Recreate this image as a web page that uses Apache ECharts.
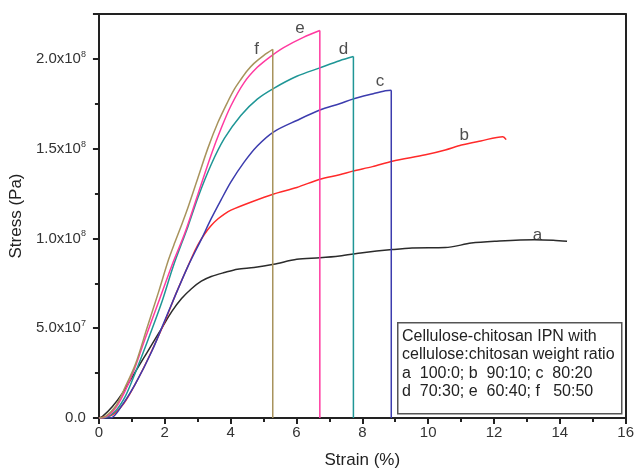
<!DOCTYPE html>
<html>
<head>
<meta charset="utf-8">
<script src="https://cdn.jsdelivr.net/npm/echarts@6/dist/echarts.min.js"></script>
<style>
  html, body { margin: 0; padding: 0; background: #fff; }
  #chart { width: 637px; height: 474px; }
</style>
</head>
<body>
<div id="chart"></div>
<script>
// strain in %, stress in MPa (converted to Pa below)
const strainA = [0, 0.11, 0.41, 0.71, 1.01, 1.31, 1.61, 1.91, 2.21, 2.51, 2.81, 3.11, 3.41, 3.81, 4.21, 4.71, 5.31, 6.01, 6.71, 7.31, 8.01, 8.91, 9.51, 10.52, 11.31, 12.02, 13.22, 13.8, 14.22]
const stressA = [0, 0.9, 6.4, 13.7, 22.8, 31.9, 41, 50.1, 59.2, 66.5, 72, 76.2, 78.8, 81, 82.9, 83.8, 85.6, 88.4, 89.2, 90.2, 92, 93.8, 94.7, 94.9, 97.4, 98.4, 99.3, 99, 98.4]

const strainB = [0, 0.41, 0.76, 1.11, 1.51, 1.96, 2.36, 2.81, 3.01, 3.21, 3.41, 3.61, 3.81, 4.01, 4.61, 5.31, 6.01, 6.71, 7.31, 7.71, 8.31, 8.91, 9.92, 10.52, 11.01, 11.6, 12.27, 12.37]
const stressB = [0, 1.8, 8.2, 19.1, 33.7, 51.9, 70.1, 89, 96.5, 102.5, 107.2, 110.8, 113.6, 115.8, 120.2, 124.8, 128.4, 133, 135.5, 137.5, 140, 143, 146.6, 149.3, 152, 154.3, 156.7, 155]

const strainC = [0, 0.35, 0.71, 1.11, 1.61, 2.11, 2.71, 3.11, 3.41, 3.71, 4.01, 4.41, 4.81, 5.31, 6.01, 6.71, 7.31, 7.71, 8.3, 8.7, 8.88]
const stressC = [0, 0, 7.3, 19.1, 37.3, 59.2, 84.7, 99.5, 111, 121.5, 131.5, 142.5, 151.5, 159.4, 165.7, 171.5, 175, 177.6, 180.5, 182.3, 182.5]

const strainD = [0, 0.2, 0.5, 0.8, 1.1, 1.5, 1.9, 2.26, 2.71, 3.01, 3.41, 3.81, 4.31, 4.81, 5.31, 6.01, 6.71, 7.31, 7.73]
const stressD = [0, 0.3, 3.8, 12, 25, 44, 64, 84.7, 107, 123, 141.2, 155.7, 168.5, 177.6, 183.6, 190.3, 195, 199, 201.3]

const strainE = [0, 0.16, 0.46, 0.76, 1.06, 1.41, 1.81, 2.21, 2.61, 3.01, 3.41, 3.71, 4.01, 4.41, 4.81, 5.21, 5.61, 6.21, 6.71]
const stressE = [0, 0.3, 4.5, 13.7, 26.4, 44.6, 64.6, 84.7, 103, 124.8, 146.6, 161.2, 173.9, 186.8, 195.3, 201.3, 206.3, 212, 215.8]

const strainF = [0, 0.2, 0.5, 0.8, 1.11, 1.46, 1.81, 2.11, 2.31, 2.51, 2.71, 3.01, 3.31, 3.61, 3.91, 4.11, 4.31, 4.51, 4.71, 5.01, 5.28]
const stressF = [0, 0.9, 6.4, 17.3, 30, 50.1, 70.1, 88, 98, 107.5, 117.5, 133.9, 150.3, 164.4, 176, 183, 188.5, 193.5, 197.5, 202, 205.3]

const curveNames = ['a', 'b', 'c', 'd', 'e', 'f']
const curveColors = ['#2b2b2b', '#ff2a2a', '#3c3cae', '#1f9696', '#ff3aa0', '#a8935c']
const curveStrain = [strainA, strainB, strainC, strainD, strainE, strainF]
const curveStress = [stressA, stressB, stressC, stressD, stressE, stressF]
// samples that fractured: stress falls straight to zero at the last strain
const fractured = [false, false, true, true, true, true]

// letter labels placed next to each curve (strain %, stress MPa)
const letterX = [13.32, 11.1, 8.54, 7.43, 6.11, 4.79]
const letterY = [101.5, 157.5, 187.5, 205.5, 217, 205.5]

const legendLines = [
  'Cellulose-chitosan IPN with',
  'cellulose:chitosan weight ratio',
  'a  100:0; b  90:10; c  80:20',
  'd  70:30; e  60:40; f   50:50',
]

const font = 'Arial, "Liberation Sans", sans-serif'
const ink = '#222'

const fmtStress = (v) => {
  if (v === 0) return '0.0'
  const exp = Math.floor(Math.log10(v) + 1e-9)
  const mant = (v / Math.pow(10, exp)).toFixed(1)
  return '{m|' + mant + 'x10}{s|' + exp + '}'
}

const series = []
curveNames.forEach((n, i) => {
  const pts = curveStrain[i].map((x, j) => [x, curveStress[i][j] * 1e6])
  series.push({
    name: n,
    type: 'line',
    symbol: 'none',
    smooth: 0.3,
    lineStyle: { color: curveColors[i], width: 1.5 },
    data: pts,
    z: 3,
  })
  if (fractured[i]) {
    const last = pts[pts.length - 1]
    series.push({
      type: 'line',
      symbol: 'none',
      lineStyle: { color: curveColors[i], width: 1.5 },
      data: [last, [last[0], 0]],
      z: 3,
    })
  }
})

series.push({
  type: 'scatter',
  symbolSize: 0,
  silent: true,
  data: curveNames.map((n, i) => ({ name: n, value: [letterX[i], letterY[i] * 1e6] })),
  label: {
    show: true,
    position: 'inside',
    formatter: (p) => p.name,
    color: ink,
    fontSize: 17,
    fontFamily: font,
  },
})

const lineOnly = { show: true, onZero: false, lineStyle: { color: ink, width: 2 } }

const chart = echarts.init(document.getElementById('chart'))
chart.setOption({
  animation: false,
  backgroundColor: '#fff',
  grid: { left: 96.5, right: 7.5, top: 14, bottom: 49 },
  xAxis: [
    {
      type: 'value', min: 0, max: 16, interval: 2,
      name: 'Strain (%)', nameLocation: 'middle', nameGap: 34,
      nameTextStyle: { fontSize: 17, color: ink, fontFamily: font },
      axisLine: lineOnly,
      axisTick: { show: true, inside: false, length: 6, lineStyle: { color: ink, width: 2 } },
      minorTick: { show: true, splitNumber: 2, length: 4, lineStyle: { color: ink, width: 2 } },
      axisLabel: { fontSize: 15, color: '#333', fontFamily: font, margin: 7 },
      splitLine: { show: false },
    },
    {
      type: 'value', position: 'top', min: 0, max: 16,
      axisLine: lineOnly, axisTick: { show: false }, axisLabel: { show: false }, splitLine: { show: false },
    },
  ],
  yAxis: [
    {
      type: 'value', min: 0, max: 2.25e8, interval: 5e7,
      name: 'Stress (Pa)', nameLocation: 'middle', nameGap: 68,
      nameTextStyle: { fontSize: 17, color: ink, fontFamily: font },
      axisLine: lineOnly,
      axisTick: { show: true, inside: false, length: 6, lineStyle: { color: ink, width: 2 } },
      minorTick: { show: true, splitNumber: 2, length: 4, lineStyle: { color: ink, width: 2 } },
      axisLabel: {
        showMaxLabel: false, margin: 13, color: '#333', fontFamily: font,
        formatter: fmtStress,
        fontSize: 15,
        rich: {
          m: { fontSize: 15, color: '#333', fontFamily: font },
          s: { fontSize: 9, color: '#333', fontFamily: font, padding: [0, 0, 9, 0] },
        },
      },
      splitLine: { show: false },
    },
    {
      type: 'value', position: 'right', min: 0, max: 2.25e8,
      axisLine: lineOnly, axisTick: { show: false }, axisLabel: { show: false }, splitLine: { show: false },
    },
  ],
  graphic: [
    {
      type: 'rect', left: 397, top: 322, z: 10,
      shape: { width: 224, height: 91 },
      style: { fill: '#fff', stroke: '#555', lineWidth: 1.5 },
    },
    {
      type: 'text', left: 402, top: 327, z: 11,
      style: {
        text: legendLines.join('\n'),
        fontSize: 16, lineHeight: 18.5, fill: ink, fontFamily: font,
      },
    },
  ],
  series,
})
</script>
</body>
</html>
